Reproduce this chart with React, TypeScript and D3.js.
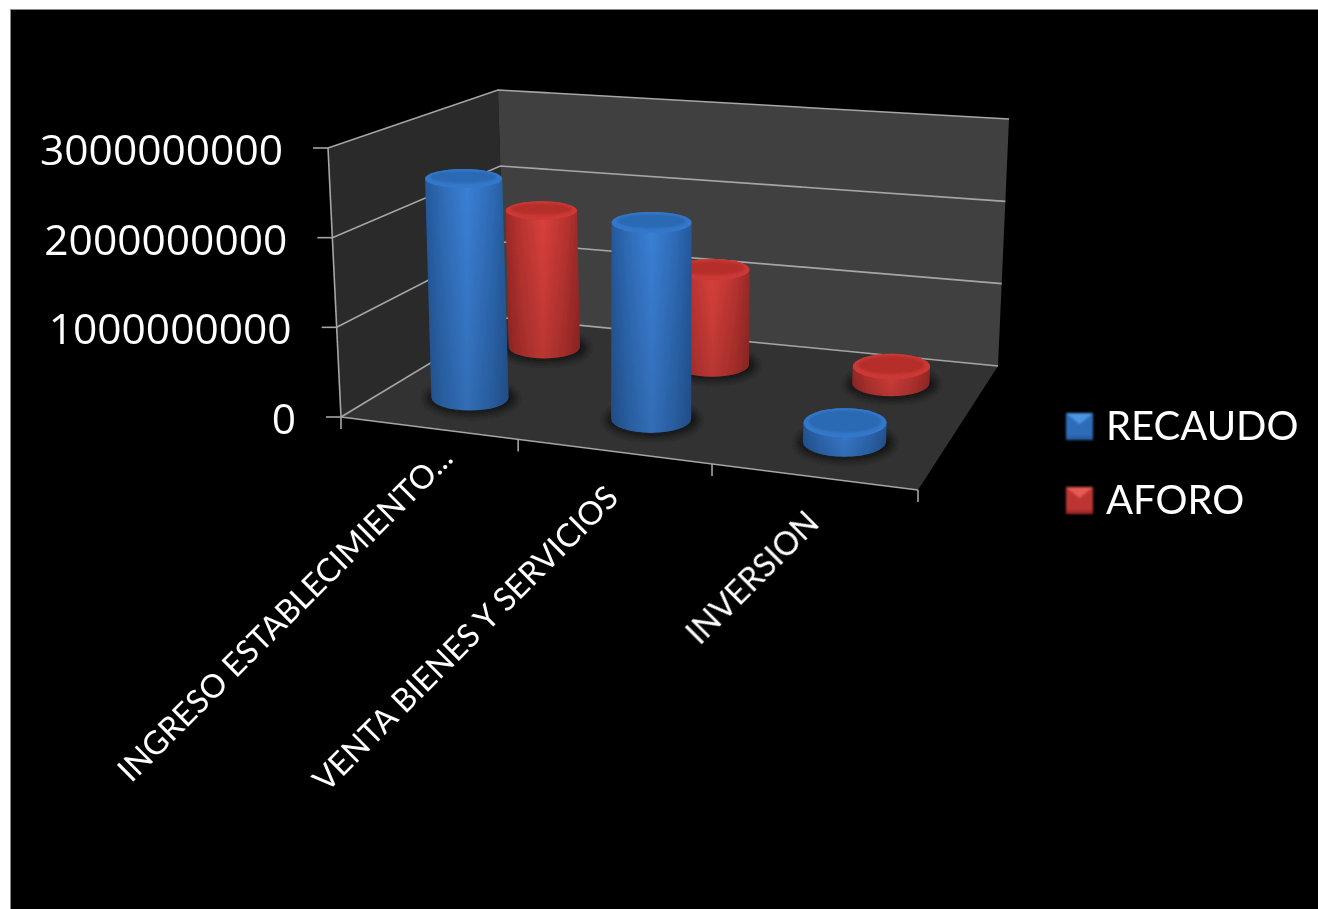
import React from "react";
import * as d3 from "d3";

const categories = ["INGRESO ESTABLECIMIENTO...", "VENTA BIENES Y SERVICIOS", "INVERSION"];
const seriesNames = ["RECAUDO", "AFORO"];
const recaudo = [2530000000, 2220000000, 210000000];
const aforo = [1710000000, 1160000000, 200000000];
const valueTicks = [0, 1000000000, 2000000000, 3000000000];

// layout of the 3D box
const floorFL: [number, number] = [341, 417];
const floorFR: [number, number] = [918, 490];
const floorBL: [number, number] = [505, 318];
const floorBR: [number, number] = [998, 366];
const topFL: [number, number] = [328, 148];
const topFR: [number, number] = [933, 204];
const topBL: [number, number] = [498, 90];
const topBR: [number, number] = [1009, 119];

const categoryEdges = [0, 0.307, 0.643, 1];
const categoryCentres = [0.146, 0.474, 0.824];
const seriesDepth = [0.295, 0.785];
const labelNudge = [[25, 32], [5, 48], [6, 48]];

const mix = (a: [number, number], b: [number, number], t: number): [number, number] => [
  d3.interpolateNumber(a[0], b[0])(t),
  d3.interpolateNumber(a[1], b[1])(t),
];
const valueScale = d3.scaleLinear().domain([0, 3000000000]).range([0, 1]);
const project = (u: number, v: number, value: number): [number, number] => {
  const f = mix(mix(floorFL, floorFR, u), mix(floorBL, floorBR, u), v);
  const t = mix(mix(topFL, topFR, u), mix(topBL, topBR, u), v);
  return mix(f, t, valueScale(value));
};
const rxAt = (u: number, v: number) => 38.5 - (v - 0.31) * 6 + (u - 0.142) * 4.4;
const ryAt = (rx: number, y: number) => rx * (0.17 + 0.00043 * y);
const pts = (list: [number, number][]) => list.map((p) => p.join(",")).join(" ");

const palette = [
  { edge: "#25599c", side: "#2f6cb8", mid: "#3b81d8", top: "#2b69b4", rim: "#3478ca" },
  { edge: "#9c2a28", side: "#bd3431", mid: "#dc413c", top: "#b52f2c", rim: "#cc3935" },
];

function Cylinder({ u, v, value, s }: { u: number; v: number; value: number; s: number }) {
  const [bx, by] = project(u, v, 0);
  const [tx, ty] = project(u, v, value);
  const rx = rxAt(u, v);
  const rb = ryAt(rx, by);
  const rt = ryAt(rx, ty);
  const body = `M${tx - rx},${ty} A${rx},${rt} 0 0 1 ${tx + rx},${ty} L${bx + rx},${by} A${rx},${rb} 0 0 1 ${bx - rx},${by} Z`;
  return (
    <g>
      <ellipse cx={bx + 1} cy={by + 1} rx={rx + 7} ry={rb + 3} fill="#000" opacity={0.6} filter="url(#shadow)" />
      <path d={body} fill={`url(#body${s})`} />
      <path d={body} fill="url(#fade)" />
      <ellipse cx={tx} cy={ty} rx={rx} ry={rt} fill={palette[s].rim} />
      <ellipse cx={tx} cy={ty - 1.5} rx={rx - 5} ry={Math.max(rt - 3.5, 1)} fill={palette[s].top} filter="url(#rim)" />
    </g>
  );
}

function LegendSwatch({ x, y, s }: { x: number; y: number; s: number }) {
  const size = 27;
  const c = palette[s];
  return (
    <g filter="url(#rim)">
      <rect x={x} y={y} width={size} height={size} fill={c.side} />
      <polygon points={pts([[x, y], [x + size, y], [x + size / 2, y + 11]])} fill={s === 0 ? "#4d96e6" : "#e65a52"} />
      <rect x={x} y={y + size - 4} width={size} height={4} fill={c.edge} opacity={0.7} />
    </g>
  );
}

export default function App() {
  const font = "Lato, 'Open Sans', sans-serif";
  return (
    <svg
      width={1318}
      height={909}
      viewBox="0 0 1318 909"
      style={{ position: "fixed", left: 0, top: 0, display: "block", background: "#fff" }}
    >
      <defs>
        <filter id="soft" x="-5%" y="-5%" width="110%" height="110%">
          <feGaussianBlur stdDeviation={0.55} />
        </filter>
        <filter id="rim" x="-20%" y="-40%" width="140%" height="180%">
          <feGaussianBlur stdDeviation={1.2} />
        </filter>
        <filter id="shadow" x="-40%" y="-60%" width="180%" height="220%">
          <feGaussianBlur stdDeviation={4.5} />
        </filter>
        {palette.map((c, i) => (
          <linearGradient key={i} id={`body${i}`} x1="0" x2="1" y1="0" y2="0">
            <stop offset="0" stopColor={c.edge} />
            <stop offset="0.2" stopColor={c.side} />
            <stop offset="0.5" stopColor={c.mid} />
            <stop offset="0.8" stopColor={c.side} />
            <stop offset="1" stopColor={c.edge} />
          </linearGradient>
        ))}
        <linearGradient id="fade" x1="0" x2="0" y1="0" y2="1">
          <stop offset="0" stopColor="#000" stopOpacity={0} />
          <stop offset="1" stopColor="#000" stopOpacity={0.16} />
        </linearGradient>
      </defs>
      <rect x={10} y={9} width={1308} height={900} fill="#8a8a8a" />
      <rect x={11} y={10} width={1307} height={899} fill="#000" />
      <g filter="url(#soft)">
        <polygon points={pts([topFL, topBL, floorBL, floorFL])} fill="#292929" />
        <polygon points={pts([topBL, topBR, floorBR, floorBL])} fill="#404040" />
        <polygon points={pts([floorFL, floorBL, floorBR, floorFR])} fill="#323232" />
        {valueTicks.map((t) => {
          const a = project(0, 0, t);
          const b = project(0, 1, t);
          const c = project(1, 1, t);
          return (
            <g key={t}>
              <polyline points={pts([a, b, c])} fill="none" stroke="#a6a6a6" strokeWidth={1.6} />
              <line x1={a[0] - 15} x2={a[0]} y1={a[1]} y2={a[1]} stroke="#a6a6a6" strokeWidth={1.6} />
              <text
                x={a[0] - 45}
                y={a[1] + 17}
                textAnchor="end"
                fontFamily="'Open Sans', sans-serif"
                fontSize={42.5}
                fill="#fff"
              >
                {t}
              </text>
            </g>
          );
        })}
        <line x1={topFL[0]} y1={topFL[1]} x2={floorFL[0]} y2={floorFL[1]} stroke="#a6a6a6" strokeWidth={1.6} />
        <line x1={floorFL[0]} y1={floorFL[1]} x2={floorFR[0]} y2={floorFR[1]} stroke="#a6a6a6" strokeWidth={1.6} />
        {categoryEdges.map((u) => {
          const p = project(u, 0, 0);
          return <line key={u} x1={p[0]} x2={p[0]} y1={p[1]} y2={p[1] + 12} stroke="#a6a6a6" strokeWidth={1.6} />;
        })}
        {aforo.map((val, i) => (
          <Cylinder key={i} u={categoryCentres[i]} v={seriesDepth[1]} value={val} s={1} />
        ))}
        {recaudo.map((val, i) => (
          <Cylinder key={i} u={categoryCentres[i]} v={seriesDepth[0]} value={val} s={0} />
        ))}
        {categories.map((c, i) => {
          const mid = (categoryEdges[i] + categoryEdges[i + 1]) / 2;
          const p = project(mid, 0, 0);
          const x = p[0] + labelNudge[i][0];
          const y = p[1] + labelNudge[i][1];
          return (
            <text
              key={c}
              transform={`translate(${x},${y}) rotate(-45)`}
              textAnchor="end"
              fontFamily={font}
              fontSize={32.3}
              fill="#fff"
            >
              {c}
            </text>
          );
        })}
        {seriesNames.map((name, i) => {
          const y = d3.scalePoint<string>().domain(seriesNames).range([413, 487])(name) as number;
          return (
            <g key={name}>
              <LegendSwatch x={1066} y={y} s={i} />
              <text x={1106} y={y + 27} fontFamily={font} fontSize={40} fill="#fff">
                {name}
              </text>
            </g>
          );
        })}
      </g>
    </svg>
  );
}
